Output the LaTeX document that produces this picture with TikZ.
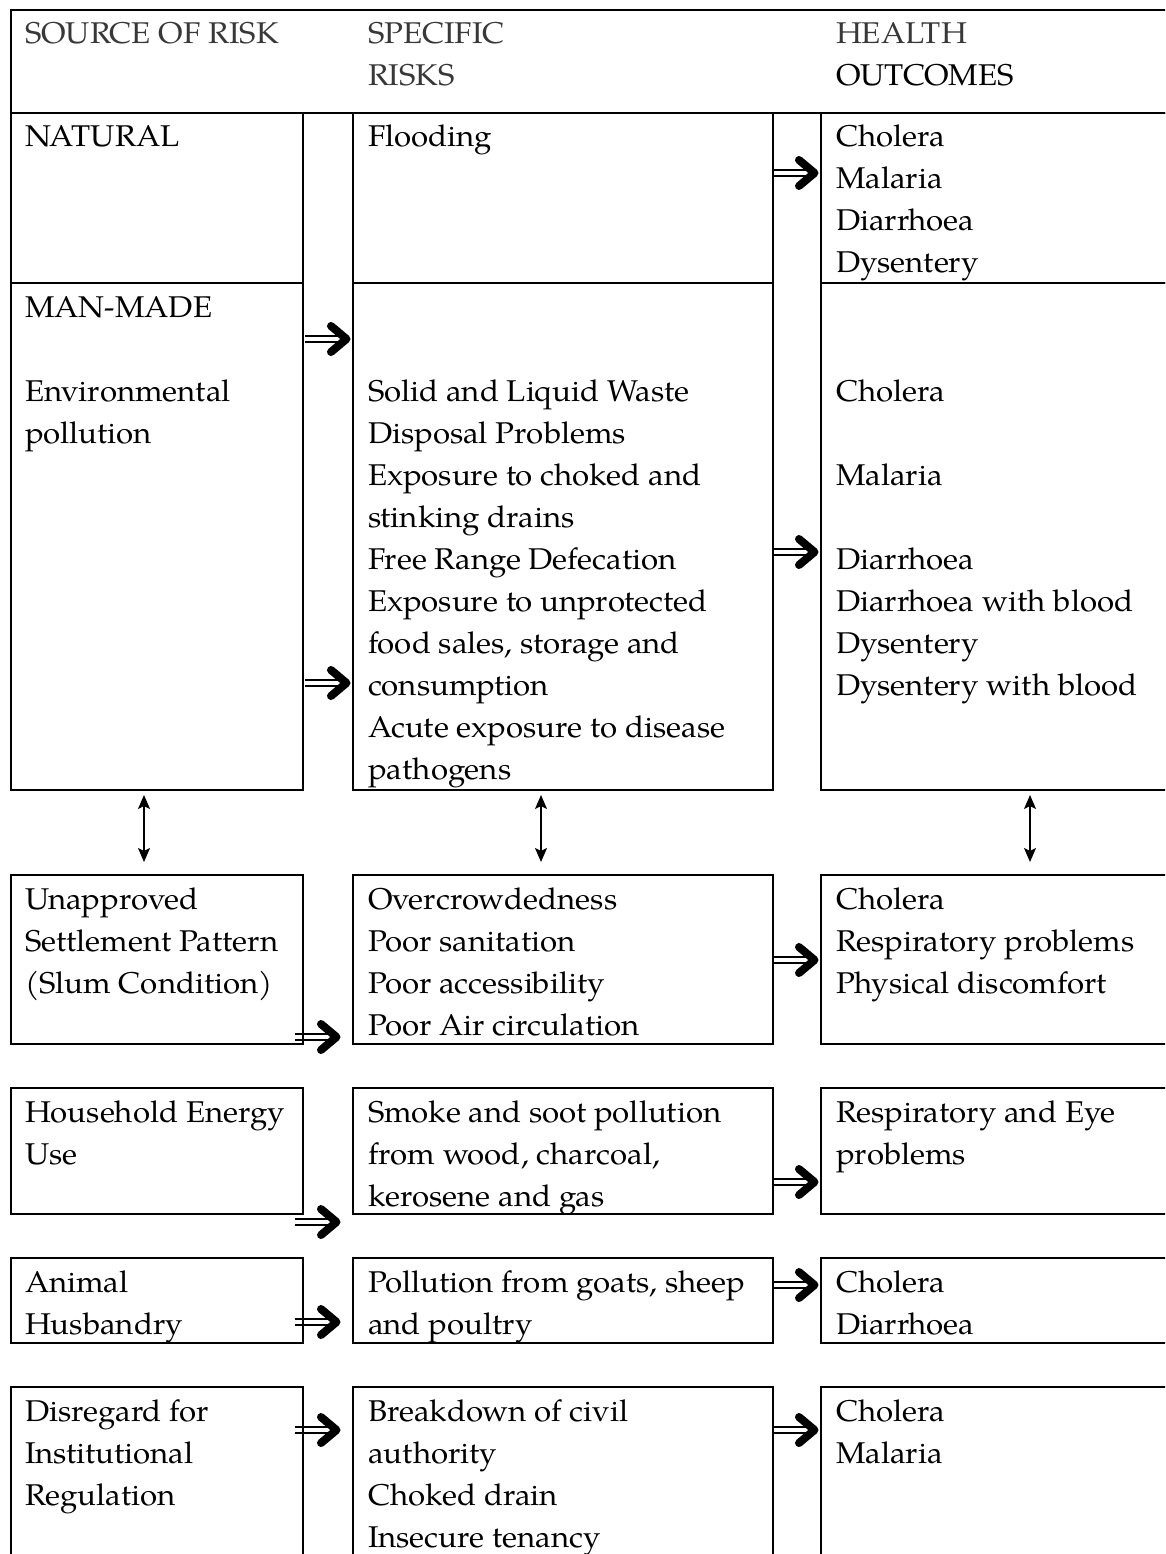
\documentclass[tikz,border=0pt]{standalone}
\usepackage{fontspec}
\setmainfont{TeX Gyre Pagella}[FakeStretch=1.04]
\usetikzlibrary{calc,arrows.meta}
\tikzset{
  box/.style={draw, line width=2.4pt, inner sep=0pt, outer sep=0pt, anchor=north west},
  txt/.style={anchor=north west, align=left, inner sep=0pt, outer sep=0pt, font=\fontsize{30}{42}\selectfont},
  hdr/.style={txt, text=black!78},
  vlink/.style={line width=1.3pt, {Stealth[length=14pt,width=12pt,inset=3pt]}-{Stealth[length=14pt,width=12pt,inset=3pt]}},
  dbl/.pic={
    \draw[line width=1.7pt] (-46,-3) -- (-11,-3) (-46,3) -- (-11,3);
    \draw[line width=8pt, line cap=round, line join=round] (-20,-13) -- (-4.5,0) -- (-20,13);
  }
}
\begin{document}
\begin{tikzpicture}[x=1pt,y=-1pt]
\path[use as bounding box] (0,0) rectangle (1165,1554);
\clip (0,0) rectangle (1165,1554);
% header
\node[box, minimum width=1170pt, minimum height=103pt] (H) at (11,10) {};
\node[hdr] (h1) at ($(H.north west)+(14,4.6)$) {\strut SOURCE OF RISK};
\node[hdr] (h2) at ($(H.north west)+(357,4.6)$) {\strut SPECIFIC\\RISKS};
\node[txt] (h3) at ($(H.north west)+(825,4.6)$) {\strut\textcolor{black!78}{HEALTH}\\OUTCOMES};
% boxes
\node[box, minimum width=292pt, minimum height=170pt] (L1) at (11,113) {};
\node[box, minimum width=292pt, minimum height=507pt] (L2) at (11,283) {};
\node[box, minimum width=292pt, minimum height=169pt] (L3) at (11,875) {};
\node[box, minimum width=292pt, minimum height=126pt] (L4) at (11,1088) {};
\node[box, minimum width=292pt, minimum height=85pt] (L5) at (11,1258) {};
\node[box, minimum width=292pt, minimum height=200pt] (L6) at (11,1387) {};
\node[box, minimum width=420pt, minimum height=170pt] (M1) at (353,113) {};
\node[box, minimum width=420pt, minimum height=507pt] (M2) at (353,283) {};
\node[box, minimum width=420pt, minimum height=169pt] (M3) at (353,875) {};
\node[box, minimum width=420pt, minimum height=126pt] (M4) at (353,1088) {};
\node[box, minimum width=420pt, minimum height=85pt] (M5) at (353,1258) {};
\node[box, minimum width=420pt, minimum height=200pt] (M6) at (353,1387) {};
\node[box, minimum width=360pt, minimum height=170pt] (R1) at (821,113) {};
\node[box, minimum width=360pt, minimum height=507pt] (R2) at (821,283) {};
\node[box, minimum width=360pt, minimum height=169pt] (R3) at (821,875) {};
\node[box, minimum width=360pt, minimum height=126pt] (R4) at (821,1088) {};
\node[box, minimum width=360pt, minimum height=85pt] (R5) at (821,1258) {};
\node[box, minimum width=360pt, minimum height=200pt] (R6) at (821,1387) {};
% texts left
\node[txt] (tL1) at ($(L1.north west)+(14,4.6)$) {\strut NATURAL};
\node[txt] (tL2) at ($(L2.north west)+(14,4.6)$) {\strut MAN-MADE\\\strut\\Environmental\\pollution};
\node[txt] (tL3) at ($(L3.north west)+(14,4.6)$) {\strut Unapproved\\Settlement Pattern\\(Slum Condition)};
\node[txt] (tL4) at ($(L4.north west)+(14,4.6)$) {\strut Household Energy\\Use};
\node[txt] (tL5) at ($(L5.north west)+(14,4.6)$) {\strut Animal\\Husbandry};
\node[txt] (tL6) at ($(L6.north west)+(14,4.6)$) {\strut Disregard for\\Institutional\\Regulation};
% texts middle
\node[txt] (tM1) at ($(M1.north west)+(15,4.6)$) {\strut Flooding};
\node[txt] (tM2) at ($(M2.north west)+(15,4.6)$) {\strut\\\strut\\Solid and Liquid Waste\\Disposal Problems\\Exposure to choked and\\stinking drains\\Free Range Defecation\\Exposure to unprotected\\food sales, storage and\\consumption\\Acute exposure to disease\\pathogens};
\node[txt] (tM3) at ($(M3.north west)+(15,4.6)$) {\strut Overcrowdedness\\Poor sanitation\\Poor accessibility\\Poor Air circulation};
\node[txt] (tM4) at ($(M4.north west)+(15,4.6)$) {\strut Smoke and soot pollution\\from wood, charcoal,\\kerosene and gas};
\node[txt] (tM5) at ($(M5.north west)+(15,4.6)$) {\strut Pollution from goats, sheep\\and poultry};
\node[txt] (tM6) at ($(M6.north west)+(15,4.6)$) {\strut Breakdown of civil\\authority\\Choked drain\\Insecure tenancy};
% texts right
\node[txt] (tR1) at ($(R1.north west)+(15,4.6)$) {\strut Cholera\\Malaria\\Diarrhoea\\Dysentery};
\node[txt] (tR2) at ($(R2.north west)+(15,4.6)$) {\strut\\\strut\\Cholera\\\strut\\Malaria\\\strut\\Diarrhoea\\Diarrhoea with blood\\Dysentery\\Dysentery with blood};
\node[txt] (tR3) at ($(R3.north west)+(15,4.6)$) {\strut Cholera\\Respiratory problems\\Physical discomfort};
\node[txt] (tR4) at ($(R4.north west)+(15,4.6)$) {\strut Respiratory and Eye\\problems};
\node[txt] (tR5) at ($(R5.north west)+(15,4.6)$) {\strut Cholera\\Diarrhoea};
\node[txt] (tR6) at ($(R6.north west)+(15,4.6)$) {\strut Cholera\\Malaria};
% double arrows
\pic at ($(M2.north west)+(-2,56)$) {dbl};
\pic at ($(M2.north west)+(-2,400)$) {dbl};
\pic at ($(R1.north west)+(-2,60)$) {dbl};
\pic at ($(R2.north west)+(-2,269)$) {dbl};
\pic at ($(M3.north west)+(-12,162)$) {dbl};
\pic at ($(R3.north west)+(-2,85)$) {dbl};
\pic at ($(M4.north west)+(-12,134)$) {dbl};
\pic at ($(R4.north west)+(-2,94)$) {dbl};
\pic at ($(M5.north west)+(-12,64)$) {dbl};
\pic at ($(R5.north west)+(-2,27)$) {dbl};
\pic at ($(M6.north west)+(-12,43)$) {dbl};
\pic at ($(R6.north west)+(-2,43)$) {dbl};
% vertical two-headed links
\draw[vlink] ($(L2.south west)+(133,5)$) -- ($(L3.north west)+(133,-13)$);
\draw[vlink] ($(M2.south west)+(188,5)$) -- ($(M3.north west)+(188,-13)$);
\draw[vlink] ($(R2.south west)+(209,5)$) -- ($(R3.north west)+(209,-13)$);
\end{tikzpicture}
\end{document}
